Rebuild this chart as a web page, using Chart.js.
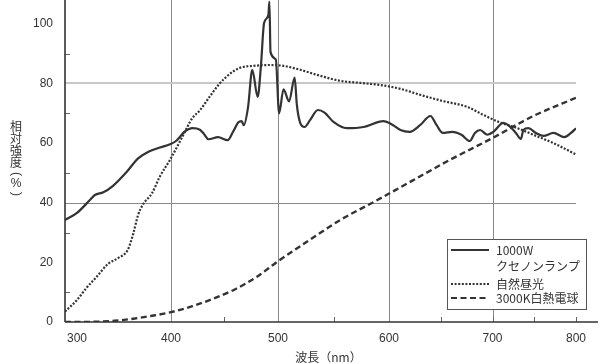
<!DOCTYPE html>
<html>
<head>
<meta charset="utf-8">
<script src="https://cdn.jsdelivr.net/npm/chart.js@4.4.1/dist/chart.umd.min.js"></script>
<style>
  html, body { margin: 0; padding: 0; background: #fff; }
  canvas { display: block; }
</style>
</head>
<body>
<canvas id="spectre" width="600" height="364"></canvas>
<script>
'use strict';
/*------------------------------------*\
     Données
\*------------------------------------*/
var xenonNm = [287, 300, 314, 319, 328, 338, 353, 365, 376, 388,
  399, 405, 413, 420, 427, 431, 435, 444, 453, 458,
  463, 466, 468, 472, 476, 481, 484, 487, 491, 492,
  493, 498, 501, 505, 510, 515, 517, 520, 524, 529,
  536, 542, 550, 562, 577, 595, 604, 611, 620, 630,
  640, 646, 652, 661, 670, 678, 683, 688, 695, 701,
  713, 719, 728, 734, 737, 743, 752, 761, 773, 786,
  794, 800];
var xenonVal = [34.2, 36.6, 41, 42.6, 43.5, 45.6, 50.4, 54.9, 57.1, 58.5,
  59.6, 60.8, 63.9, 65, 64.5, 63, 61.3, 62, 61, 63.8,
  67, 67.4, 66, 72, 84.6, 75.5, 85.6, 100.3, 103, 107.5,
  90.6, 88, 70, 78, 74, 82, 72.8, 66.8, 65.4, 67.8,
  71.1, 70.2, 67.1, 65, 65.4, 67.4, 66, 64.4, 63.8, 66,
  69.1, 66, 63.4, 63.8, 62.8, 60.7, 63.4, 64.4, 62.8, 63.8,
  66.8, 66, 63.4, 61.4, 64.4, 65, 63.4, 62.4, 63.4, 62,
  63.4, 65];

var jourNm = [287, 300, 310, 321, 333, 344, 354, 360, 365, 370,
  380, 388, 399, 410, 420, 427, 436, 446, 455, 464,
  477, 493, 505, 520, 535, 556, 574, 592, 611, 630,
  651, 676, 691, 710, 730, 749, 773, 800];
var jourVal = [3.5, 7.4, 11.4, 15.2, 19.5, 21.5, 24.2, 29.8, 35.9, 39.3,
  43.3, 48.7, 54.4, 61.7, 68.4, 71, 75.5, 80.2, 83.2, 85.2,
  85.9, 86.2, 85.9, 84.6, 82.9, 80.9, 80.2, 79.5, 78.2, 76.2,
  74.2, 72.1, 69.5, 66.8, 65, 62.8, 60, 56.2];

var lampeNm = [287, 320, 340, 360, 380, 400, 420, 440, 460, 480,
  500, 526, 556, 586, 608, 623, 659, 700, 749, 800];
var lampeVal = [0, 0.1, 0.4, 1.1, 2.1, 3.3, 5.3, 7.9, 11, 15.1,
  20.4, 26.9, 34.2, 40.2, 44.6, 47.5, 54.4, 61.7, 69.1, 75.2];

var xTickLabels = [300, 400, 500, 600, 700, 800];
var yTickLabels = [0, 20, 40, 60, 80, 100];
var seriesLabels = ['1000W\nクセノンランプ', '自然昼光', '3000K白熱電球'];
var xTitle = '波長（nm）';
var yTitle = '相対強度(%)';

function paires(xs, ys) {
  return xs.map(function(x, i) { return { x: x, y: ys[i] }; });
}

/*------------------------------------*\
     Axe des x (gradué à la main sur l'original, pas tout à fait régulier)
\*------------------------------------*/
var X_NOEUDS = [287, 300, 400, 500, 600, 700, 800];
var X_FRACS = [0, 0.0235, 0.2074, 0.4168, 0.6341, 0.8366, 1];

function interp(xs, ys, v) {
  var i = 1;
  while (i < xs.length - 1 && v > xs[i]) i++;
  var t = (v - xs[i - 1]) / (xs[i] - xs[i - 1]);
  return ys[i - 1] + t * (ys[i] - ys[i - 1]);
}

class EchelleDeformee extends Chart.LinearScale {
  getPixelForValue(value) {
    if (value === null || isNaN(value)) return NaN;
    return this.getPixelForDecimal(interp(X_NOEUDS, X_FRACS, value));
  }
  getValueForPixel(pixel) {
    return interp(X_FRACS, X_NOEUDS, this.getDecimalForPixel(pixel));
  }
}
EchelleDeformee.id = 'deformee';
EchelleDeformee.defaults = Chart.LinearScale.defaults;
Chart.register(EchelleDeformee);

/*------------------------------------*\
     Styles
\*------------------------------------*/
var encre = '#333333';
var policeNum = "'Liberation Sans', Arial, sans-serif";
var policeJp = "'Noto Sans CJK JP', sans-serif";
var styles = [
  { dash: [], width: 2.2 },
  { dash: [2, 1.6], width: 2.2 },
  { dash: [6, 3.5], width: 2.4 }
];

function trait(ctx, x1, y1, x2, y2) {
  ctx.beginPath();
  ctx.moveTo(x1, y1);
  ctx.lineTo(x2, y2);
  ctx.stroke();
}

// grille, axes et petites graduations tournées vers l'intérieur
var cadre = {
  id: 'cadre',
  beforeDatasetsDraw: function(chart) {
    var ctx = chart.ctx, a = chart.chartArea;
    var sx = chart.scales.x, sy = chart.scales.y;
    ctx.save();
    ctx.lineWidth = 1;
    ctx.strokeStyle = '#8a8a8a';
    xTickLabels.forEach(function(v) {
      if (v <= 300 || v >= 800) return;
      var px = Math.round(sx.getPixelForValue(v)) + 0.5;
      trait(ctx, px, a.top, px, a.bottom);
    });
    var py = Math.round(sy.getPixelForValue(40)) + 0.5;
    trait(ctx, a.left, py, a.right, py);
    ctx.strokeStyle = '#c8c8c8';
    ctx.lineWidth = 2;
    py = Math.round(sy.getPixelForValue(80));
    trait(ctx, a.left, py, a.right, py);

    // graduations mineures
    ctx.strokeStyle = '#666';
    ctx.lineWidth = 1;
    for (var v = 450; v <= 800; v += 50) {
      if (v % 100 === 0 && v < 800 && v !== 700) continue;
      var px = Math.round(sx.getPixelForValue(v)) + 0.5;
      trait(ctx, px, a.bottom, px, a.bottom - 5);
    }
    for (var w = 10; w <= 90; w += 20) {
      var qy = Math.round(sy.getPixelForValue(w)) + 0.5;
      trait(ctx, a.left, qy, a.left + 5, qy);
    }

    // axes
    ctx.strokeStyle = encre;
    ctx.lineWidth = 1.6;
    trait(ctx, a.left, a.top, a.left, a.bottom);
    trait(ctx, a.left, a.bottom, a.right + 22, a.bottom);
    ctx.restore();
  },
  afterDraw: function(chart) {
    var ctx = chart.ctx, a = chart.chartArea;
    ctx.save();
    ctx.fillStyle = encre;
    ctx.textBaseline = 'middle';
    ctx.textAlign = 'center';
    ctx.font = '12px ' + policeJp;

    // titre de l'axe x
    ctx.fillText(xTitle, (a.left + a.right) / 2 + 8, 357);

    // titre de l'axe y, écrit verticalement
    var y = 126, hPrec = 0;
    Array.from(yTitle).forEach(function(c) {
      var petit = (c === '(' || c === ')' || c === '%');
      var h = petit ? 10 : 12.3;
      if (hPrec) y += (hPrec + h) / 2;
      hPrec = h;
      if (c === '(' || c === ')') {
        ctx.save();
        ctx.translate(16, y);
        ctx.rotate(Math.PI / 2);
        ctx.font = '12px ' + policeNum;
        ctx.fillText(c, 0, 0);
        ctx.restore();
      } else {
        ctx.font = (c === '%' ? '12px ' + policeNum : '12px ' + policeJp);
        ctx.fillText(c, 16, y);
      }
    });

    // légende
    var bx = 447, by = 239, bw = 139, bh = 70;
    ctx.fillStyle = '#fff';
    ctx.fillRect(bx, by, bw, bh);
    ctx.strokeStyle = '#555';
    ctx.lineWidth = 1;
    ctx.strokeRect(bx + 0.5, by + 0.5, bw, bh);
    ctx.font = '12px ' + policeJp;
    ctx.textAlign = 'left';
    ctx.fillStyle = encre;
    var lignesY = [[250, 266], [284], [298]];
    chart.data.datasets.forEach(function(ds, i) {
      var ys = lignesY[i];
      ctx.save();
      ctx.strokeStyle = encre;
      ctx.lineWidth = styles[i].width - 0.4;
      ctx.setLineDash(styles[i].dash);
      trait(ctx, bx + 4, ys[0], bx + 42, ys[0]);
      ctx.restore();
      ds.label.split('\n').forEach(function(t, k) {
        ctx.fillText(t, bx + 49, ys[k]);
      });
    });
    ctx.restore();
  }
};

/*------------------------------------*\
     Graphique
\*------------------------------------*/
var seriesData = [paires(xenonNm, xenonVal), paires(jourNm, jourVal), paires(lampeNm, lampeVal)];

var spectre = new Chart(document.getElementById('spectre').getContext('2d'), {
  type: 'line',
  data: {
    datasets: seriesData.map(function(d, i) {
      return {
        label: seriesLabels[i],
        data: d,
        borderColor: encre,
        borderWidth: styles[i].width,
        borderDash: styles[i].dash,
        pointRadius: 0,
        fill: false,
        cubicInterpolationMode: 'monotone'
      };
    })
  },
  options: {
    responsive: false,
    devicePixelRatio: 1,
    animation: false,
    layout: { padding: { left: 0, right: 24, top: 0, bottom: 0 } },
    plugins: { legend: { display: false }, tooltip: { enabled: false } },
    scales: {
      x: {
        type: 'deformee',
        min: 287,
        max: 800,
        grid: { display: false, drawTicks: false },
        border: { display: false },
        ticks: { color: encre, font: { family: policeNum, size: 12 }, padding: 9, maxRotation: 0, autoSkip: false },
        afterBuildTicks: function(s) { s.ticks = xTickLabels.map(function(v) { return { value: v }; }); },
        afterFit: function(s) { s.height = 42; s.paddingLeft = 0; s.paddingRight = 0; }
      },
      y: {
        min: 0,
        max: 108,
        grid: { display: false, drawTicks: false },
        border: { display: false },
        ticks: { color: encre, font: { family: policeNum, size: 12 }, padding: 12 },
        afterBuildTicks: function(s) { s.ticks = yTickLabels.map(function(v) { return { value: v }; }); },
        afterFit: function(s) { s.width = 65; s.paddingTop = 0; s.paddingBottom = 0; }
      }
    }
  },
  plugins: [cadre]
});
</script>
</body>
</html>
